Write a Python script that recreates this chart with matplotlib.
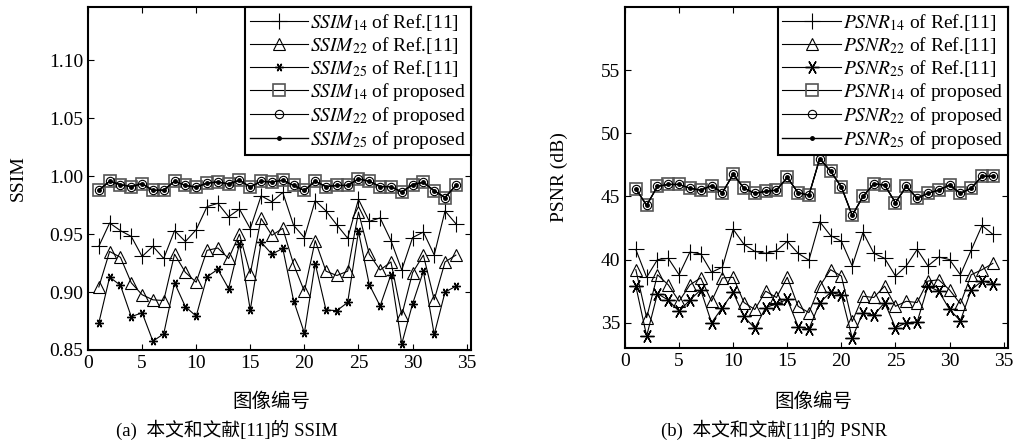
import numpy as np
import matplotlib
matplotlib.use('Agg')
import matplotlib.pyplot as plt

plt.rcParams['font.family'] = ['Liberation Serif', 'Noto Sans CJK SC']
plt.rcParams['mathtext.fontset'] = 'stix'

images = np.arange(1, 35)

# SSIM values
ssim14_ref = [0.9395, 0.9596, 0.953, 0.948, 0.9307, 0.9395, 0.929, 0.953, 0.9436, 0.9538,
              0.9737, 0.9766, 0.965, 0.9716, 0.9547, 0.983, 0.978, 0.986, 0.9576, 0.947,
              0.979, 0.970, 0.958, 0.9465, 0.980, 0.961, 0.964, 0.9444, 0.919, 0.947,
              0.9518, 0.932, 0.970, 0.959]
ssim22_ref = [0.9044, 0.935, 0.930, 0.908, 0.8977, 0.8933, 0.8927, 0.9327, 0.917, 0.9085,
              0.936, 0.938, 0.929, 0.950, 0.916, 0.9635, 0.949, 0.955, 0.924, 0.9006,
              0.9444, 0.918, 0.9143, 0.918, 0.969, 0.9327, 0.919, 0.926, 0.880, 0.9167,
              0.9319, 0.8933, 0.926, 0.9319]
ssim25_ref = [0.8734, 0.9129, 0.9058, 0.8787, 0.8822, 0.8576, 0.864, 0.9079, 0.8874, 0.8792,
              0.9132, 0.9196, 0.903, 0.9415, 0.8845, 0.943, 0.9327, 0.9377, 0.8927, 0.8646,
              0.9246, 0.8845, 0.884, 0.891, 0.9523, 0.9064, 0.888, 0.915, 0.8553, 0.8898,
              0.918, 0.8634, 0.900, 0.905]
ssim_prop = [0.988, 0.9956, 0.9927, 0.991, 0.9936, 0.9877, 0.988, 0.9956, 0.992, 0.9906,
             0.994, 0.995, 0.9933, 0.9965, 0.9906, 0.9956, 0.995, 0.9965, 0.992, 0.9877,
             0.9956, 0.991, 0.992, 0.992, 0.9977, 0.9956, 0.991, 0.991, 0.9863, 0.9927,
             0.9947, 0.9874, 0.9816, 0.992]

# PSNR values (dB)
psnr14_ref = [40.8, 38.6, 40.0, 40.1, 38.8, 40.6, 40.45, 39.0, 39.4, 42.4,
              41.2, 40.65, 40.5, 40.7, 41.45, 40.5, 39.95, 43.0, 41.9, 41.45,
              39.5, 42.15, 40.5, 40.1, 38.7, 39.5, 40.8, 39.5, 40.2, 40.0,
              38.8, 40.75, 42.7, 42.0]
psnr22_ref = [39.2, 35.4, 38.8, 38.0, 36.7, 38.0, 38.55, 36.7, 38.55, 38.6,
              36.6, 36.05, 37.5, 37.0, 38.6, 36.3, 35.8, 37.9, 39.2, 38.7,
              35.1, 37.1, 37.0, 37.9, 36.3, 36.7, 36.6, 38.3, 38.4, 37.6,
              36.5, 38.8, 39.2, 39.7]
psnr25_ref = [37.9, 33.95, 37.3, 36.8, 35.9, 36.8, 37.6, 35.0, 36.2, 37.4,
              35.5, 34.55, 36.2, 36.5, 36.85, 34.7, 34.5, 36.6, 37.4, 37.2,
              33.8, 35.8, 35.6, 36.6, 34.6, 35.0, 35.05, 37.9, 37.5, 36.05,
              35.15, 37.6, 38.3, 38.1]
psnr_prop = [45.6, 44.3, 45.8, 45.95, 45.95, 45.65, 45.5, 45.85, 45.3, 46.75,
             45.65, 45.25, 45.4, 45.5, 46.5, 45.3, 45.1, 48.0, 47.0, 45.75,
             43.5, 45.0, 46.0, 45.9, 44.5, 45.8, 44.85, 45.25, 45.5, 45.9,
             45.25, 45.65, 46.6, 46.6]

fig = plt.figure(figsize=(10.13, 4.46), dpi=100)
ax1 = fig.add_axes([88/1013, 96/446, 383/1013, 343/446])
ax2 = fig.add_axes([625/1013, 98/446, 383/1013, 341/446])

asterisk = (6, 2, 90)


def draw(ax, name, r14, r22, r25, prop, ast_size):
    lw = 0.8
    ax.plot(images, r14, '-', color='k', lw=lw, marker='+', ms=12, mew=0.8,
            label=r'$\mathit{%s}_{14}$ of Ref.[11]' % name)
    ax.plot(images, r22, '-', color='k', lw=lw, marker='^', ms=9, mfc='none', mew=0.8,
            label=r'$\mathit{%s}_{22}$ of Ref.[11]' % name)
    ax.plot(images, r25, '-', color='k', lw=lw, marker=asterisk, ms=ast_size, mew=1.0,
            label=r'$\mathit{%s}_{25}$ of Ref.[11]' % name)
    ax.plot(images, prop, '-', color='k', lw=lw, marker='s', ms=8, mfc='none',
            mec='#555555', mew=1.2, label=r'$\mathit{%s}_{14}$ of proposed' % name)
    ax.plot(images, prop, '-', color='k', lw=lw, marker='o', ms=6, mfc='none', mew=0.8,
            label=r'$\mathit{%s}_{22}$ of proposed' % name)
    ax.plot(images, prop, '-', color='k', lw=1.0, marker='.', ms=5,
            label=r'$\mathit{%s}_{25}$ of proposed' % name)
    ax.set_xlim(0, 35.4)
    ax.set_xticks(range(0, 36, 5))
    ax.tick_params(direction='in', top=True, right=True, labelsize=14, length=4, width=0.8)
    for s in ax.spines.values():
        s.set_linewidth(1.5)
    leg = ax.legend(loc='upper right', fontsize=14, frameon=True, fancybox=False,
                    edgecolor='k', framealpha=1, borderaxespad=0, handlelength=3.0,
                    handletextpad=0.1, labelspacing=0.1, borderpad=0.25)
    leg.get_frame().set_linewidth(1.5)


draw(ax1, 'SSIM', ssim14_ref, ssim22_ref, ssim25_ref, ssim_prop, 6)
ax1.set_ylim(0.85, 1.146)
ax1.set_yticks([0.85, 0.90, 0.95, 1.00, 1.05, 1.10])
ax1.set_yticklabels(['0.85', '0.90', '0.95', '1.00', '1.05', '1.10'])
ax1.set_ylabel('SSIM', fontsize=14)
ax1.yaxis.set_label_coords(-0.16, 0.5)

draw(ax2, 'PSNR', psnr14_ref, psnr22_ref, psnr25_ref, psnr_prop, 10)
ax2.set_ylim(33, 60)
ax2.set_yticks([35, 40, 45, 50, 55])
ax2.set_ylabel('PSNR (dB)', fontsize=14)
ax2.yaxis.set_label_coords(-0.15, 0.5)

fig.text(271/1013, 1 - 402/446, '图像编号', fontsize=14, ha='center', va='center')
fig.text(813/1013, 1 - 402/446, '图像编号', fontsize=14, ha='center', va='center')
fig.text(227/1013, 1 - 430/446, '(a)  本文和文献[11]的 SSIM', fontsize=13.5, ha='center', va='center')
fig.text(774/1013, 1 - 430/446, '(b)  本文和文献[11]的 PSNR', fontsize=13.5, ha='center', va='center')

fig.savefig('out.png', dpi=100)
